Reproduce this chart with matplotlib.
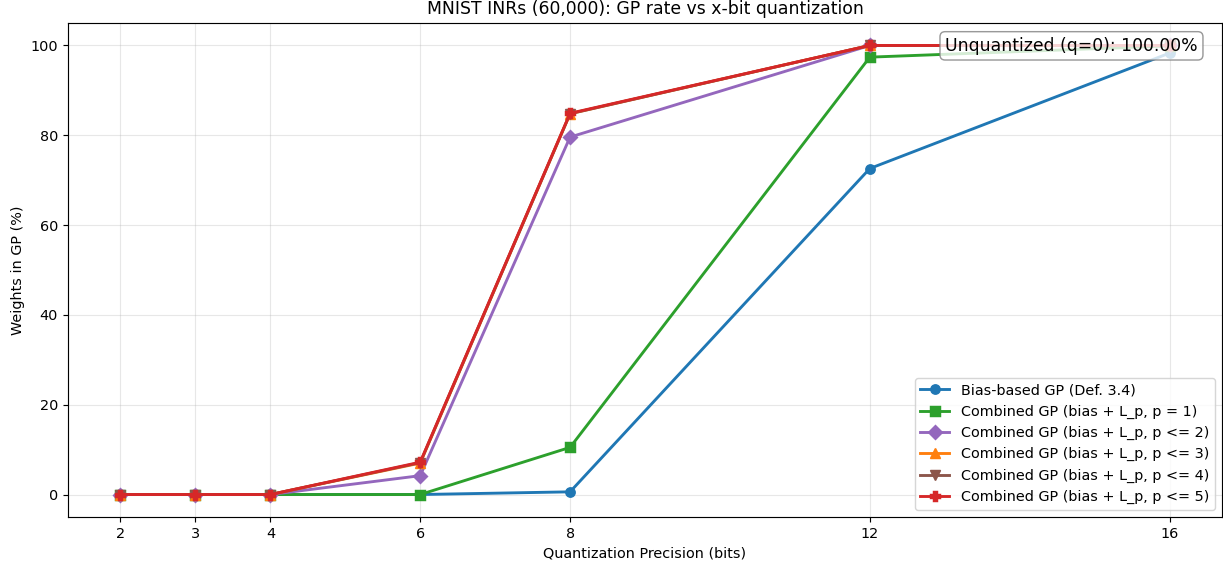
import matplotlib
matplotlib.use('Agg')
import matplotlib.pyplot as plt

# quantization bits
bits = [2, 3, 4, 6, 8, 12, 16]

# GP rate (%) per method
bias_gp = [0, 0, 0, 0, 0.6, 72.6, 98.3]
comb_p1 = [0, 0, 0, 0, 10.5, 97.4, 99.9]
comb_p2 = [0, 0, 0, 4.2, 79.6, 100, 100]
comb_p3 = [0, 0, 0, 7.0, 84.8, 100, 100]
comb_p4 = [0, 0, 0, 7.1, 84.8, 100, 100]
comb_p5 = [0, 0, 0, 7.2, 84.9, 100, 100]

unquantized = 100.0

labels = ['Bias-based GP (Def. 3.4)',
          'Combined GP (bias + L_p, p = 1)',
          'Combined GP (bias + L_p, p <= 2)',
          'Combined GP (bias + L_p, p <= 3)',
          'Combined GP (bias + L_p, p <= 4)',
          'Combined GP (bias + L_p, p <= 5)']
series = [bias_gp, comb_p1, comb_p2, comb_p3, comb_p4, comb_p5]
markers = ['o', 's', 'D', '^', 'v', 'P']
colors = ['#1f77b4', '#2ca02c', '#9467bd', '#ff7f0e', '#8c564b', '#d62728']

dpi = 103.5
fig, ax = plt.subplots(figsize=(1223 / dpi, 571 / dpi), dpi=dpi)
fig.subplots_adjust(left=0.0556, right=0.9992, top=0.9597, bottom=0.0946)

for vals, lab, m, c in zip(series, labels, markers, colors):
    ax.plot(bits, vals, marker=m, color=c, label=lab, linewidth=2, markersize=6.5)

ax.set_xticks(bits)
ax.set_xlabel('Quantization Precision (bits)')
ax.set_ylabel('Weights in GP (%)')
ax.set_title('MNIST INRs (60,000): GP rate vs x-bit quantization')
ax.grid(True, alpha=0.3)
ax.legend(loc='lower right')

ax.text(0.979, 0.972, 'Unquantized (q=0): %.2f%%' % unquantized,
        transform=ax.transAxes, ha='right', va='top', fontsize=12,
        bbox=dict(boxstyle='round', facecolor='white', edgecolor='gray', alpha=0.8))

plt.savefig('out.png', dpi=dpi)
